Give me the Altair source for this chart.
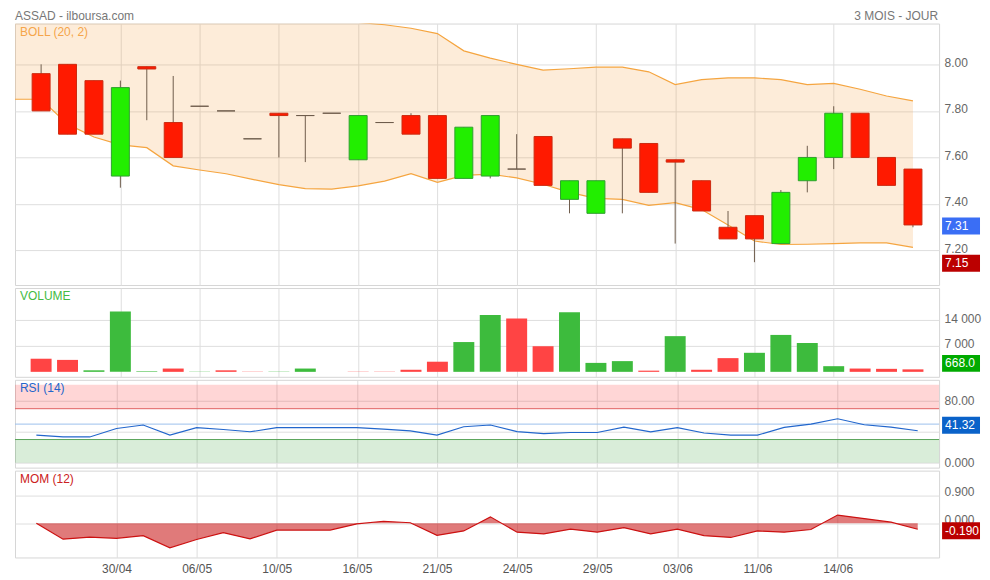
import altair as alt
import pandas as pd

# ---------------- data ----------------
dates = ["25/04", "26/04", "29/04", "30/04", "02/05", "03/05", "06/05", "07/05", "08/05", "10/05",
         "13/05", "14/05", "16/05", "17/05", "20/05", "21/05", "22/05", "23/05", "24/05", "27/05",
         "28/05", "29/05", "30/05", "31/05", "03/06", "04/06", "10/06", "11/06", "12/06", "13/06",
         "14/06", "18/06", "19/06", "20/06"]
opens = [7.96, 8.00, 7.93, 7.52, 7.99, 7.75, 7.82, 7.80, 7.68, 7.79, 7.78, 7.79, 7.59, 7.75, 7.78,
         7.78, 7.51, 7.52, 7.55, 7.69, 7.42, 7.36, 7.68, 7.66, 7.59, 7.50, 7.30, 7.35, 7.23, 7.50,
         7.60, 7.79, 7.60, 7.55]
closes = [7.80, 7.70, 7.70, 7.90, 7.98, 7.60, 7.82, 7.80, 7.68, 7.78, 7.78, 7.79, 7.78, 7.75, 7.70,
          7.51, 7.73, 7.78, 7.55, 7.48, 7.50, 7.50, 7.64, 7.45, 7.58, 7.37, 7.25, 7.25, 7.45, 7.60,
          7.79, 7.60, 7.48, 7.31]
highs = [8.00, 8.00, 7.93, 7.93, 7.99, 7.95, 7.82, 7.80, 7.68, 7.79, 7.78, 7.79, 7.78, 7.75, 7.79,
         7.78, 7.73, 7.78, 7.70, 7.69, 7.50, 7.50, 7.68, 7.66, 7.59, 7.50, 7.37, 7.35, 7.46, 7.65,
         7.82, 7.79, 7.60, 7.55]
lows = [7.80, 7.70, 7.70, 7.47, 7.76, 7.60, 7.82, 7.80, 7.68, 7.60, 7.58, 7.79, 7.59, 7.75, 7.70,
        7.51, 7.51, 7.51, 7.55, 7.48, 7.36, 7.36, 7.36, 7.45, 7.23, 7.37, 7.25, 7.15, 7.23, 7.45,
        7.55, 7.60, 7.48, 7.30]

# Bollinger (20, 2) - first value belongs to the session before the first candle
boll_upper = [8.30, 8.30, 8.31, 8.31, 8.30, 8.29, 8.28, 8.26, 8.25, 8.24, 8.23, 8.22, 8.20, 8.18,
              8.17, 8.155, 8.132, 8.058, 8.027, 8.000, 7.975, 7.981, 7.988, 7.988, 7.968, 7.913,
              7.934, 7.942, 7.942, 7.934, 7.913, 7.918, 7.893, 7.864, 7.843]
boll_lower = [7.85, 7.85, 7.743, 7.688, 7.654, 7.642, 7.564, 7.546, 7.53, 7.506, 7.483, 7.466,
              7.464, 7.478, 7.498, 7.53, 7.493, 7.523, 7.528, 7.512, 7.485, 7.45, 7.424, 7.42,
              7.394, 7.406, 7.376, 7.31, 7.241, 7.226, 7.227, 7.23, 7.233, 7.233, 7.214]

volumes = [3550, 3230, 410, 16340, 150, 890, 60, 410, 60, 60, 890, 0, 60, 60, 560, 2740, 8060,
           15380, 14410, 6930, 16100, 2420, 2900, 320, 9660, 560, 3710, 5150, 9990, 7810, 1530,
           890, 810, 668]
vol_dir = ["down", "down", "up", "up", "up", "down", "up", "down", "down", "up", "up", "up",
           "down", "down", "down", "down", "up", "up", "down", "down", "up", "up", "up", "down",
           "up", "down", "down", "up", "up", "up", "up", "down", "down", "down"]

rsi = [35.7, 33.4, 33.4, 44.3, 48.9, 35.7, 45.4, 43.1, 40.0, 45.4, 45.4, 45.4, 45.4, 43.5, 41.2,
       35.7, 46.6, 48.9, 40.3, 37.7, 39.2, 39.2, 46.1, 40.0, 45.4, 38.5, 35.7, 35.7, 45.8, 50.0,
       56.9, 49.2, 46.1, 41.32]
rsi_overbought = 70
rsi_mid = 50
rsi_oversold = 30
rsi_top = 101.0

mom = [0.0, -0.511, -0.445, -0.483, -0.398, -0.786, -0.52, -0.303, -0.502, -0.218, -0.218,
       -0.218, -0.02, 0.066, 0.019, -0.388, -0.246, 0.208, -0.284, -0.341, -0.19, -0.284,
       -0.142, -0.341, -0.19, -0.398, -0.455, -0.246, -0.284, -0.199, 0.265, 0.152, 0.038, -0.19]

title_left = "ASSAD - ilboursa.com"
title_right = "3 MOIS - JOUR"
price_ticks = [7.2, 7.4, 7.6, 7.8, 8.0]
vol_ticks = [7000, 14000]
rsi_ticks = [0, 40, 80]
rsi_tick_labels = ["0.000", "", "80.00"]
mom_ticks = [0, 0.9]
date_ticks = list(range(3, 31, 3))

last_close = closes[-1]
min_low = min(lows)
last_vol = volumes[-1]
last_rsi = rsi[-1]
last_mom = mom[-1]

# ---------------- frames ----------------
n = len(dates)
idx = list(range(n))
cdir = ["up" if c > o else ("down" if c < o else "flat") for o, c in zip(opens, closes)]
candles = pd.DataFrame({"i": idx, "open": opens, "close": closes, "high": highs,
                        "low": lows, "dir": cdir})
band = pd.DataFrame({"i": list(range(-1, n)), "upper": boll_upper, "lower": boll_lower})
vol_df = pd.DataFrame({"i": idx, "vol": volumes, "dir": vol_dir})
rsi_df = pd.DataFrame({"i": idx, "rsi": rsi})
mom_df = pd.DataFrame({"i": idx, "mom": mom})

FONT = "Liberation Sans"
GRID = "#dedede"
W = 926
XDOM = [-0.8, 33.8]
label_expr = "[" + ",".join("'%s'" % d for d in dates) + "][datum.value]"
rsi_label_expr = ("[" + ",".join("'%s'" % s for s in rsi_tick_labels) + "]"
                  "[indexof(" + str(rsi_ticks) + ", datum.value)]")
BX1, BX2 = 929, 967   # badge extent (px, right of plot)
TX = 932              # badge text start


def xenc(show=False):
    return alt.X("i:Q", scale=alt.Scale(domain=XDOM, nice=False, zero=False),
                 axis=alt.Axis(values=date_ticks, grid=True, gridColor=GRID, labels=show,
                               ticks=False, domain=False, title=None, labelExpr=label_expr,
                               labelPadding=6 if show else 0, labelFontSize=12,
                               labelColor="#555", labelFont=FONT))


def yaxis(vals, fmt=None, expr=None, offset=-2, flush=False):
    kw = dict(values=vals, orient="right", grid=True, gridColor=GRID, ticks=False,
              domain=False, title=None, labelPadding=5, labelFontSize=12,
              labelColor="#666", labelFont=FONT, labelOffset=offset, labelFlush=flush)
    if fmt:
        kw["format"] = fmt
    if expr:
        kw["labelExpr"] = expr
    return alt.Axis(**kw)


def badge(value, scale, color, text, yoff=0):
    d = pd.DataFrame({"v": [value], "t": [text]})
    base = alt.Chart(d)
    box = base.mark_bar(size=17, orient="horizontal", color=color, yOffset=yoff).encode(
        x=alt.value(BX1), x2=alt.value(BX2), y=alt.Y("v:Q", scale=scale))
    txt = base.mark_text(align="left", baseline="middle", color="white", font=FONT,
                         fontSize=12, dy=yoff).encode(
        x=alt.value(TX), y=alt.Y("v:Q", scale=scale), text="t:N")
    return box + txt


def panel_label(text, color):
    return alt.Chart(pd.DataFrame({"t": [text]})).mark_text(
        align="left", baseline="middle", font=FONT, fontSize=12, color=color).encode(
        x=alt.value(5), y=alt.value(8.5), text="t:N")


# ---------------- price panel ----------------
ps = alt.Scale(domain=[7.0734, 8.1538], nice=False, zero=False)
band_area = alt.Chart(band).mark_area(color="#f7a040", opacity=0.2, clip=True).encode(
    x=xenc(), y=alt.Y("lower:Q", scale=ps, axis=yaxis(price_ticks, fmt=".2f")),
    y2="upper:Q")
up_line = alt.Chart(band).mark_line(color="#f5a540", strokeWidth=1.2, clip=True).encode(
    x="i:Q", y=alt.Y("upper:Q", scale=ps))
lo_line = alt.Chart(band).mark_line(color="#f5a540", strokeWidth=1.2, clip=True).encode(
    x="i:Q", y=alt.Y("lower:Q", scale=ps))
wicks = alt.Chart(candles).mark_rule(color="#6e5c4c", strokeWidth=1).encode(
    x="i:Q", y=alt.Y("low:Q", scale=ps), y2="high:Q")
bodies = alt.Chart(candles).mark_bar(size=18, strokeWidth=1).encode(
    x="i:Q", y=alt.Y("open:Q", scale=ps), y2="close:Q",
    fill=alt.Fill("dir:N", scale=alt.Scale(domain=["up", "down", "flat"],
                                           range=["#22ee00", "#ff1a00", "#6e5c4c"]), legend=None),
    stroke=alt.Stroke("dir:N", scale=alt.Scale(domain=["up", "down", "flat"],
                                               range=["#2ea02e", "#cc2a10", "#6e5c4c"]), legend=None))
titles = (alt.Chart(pd.DataFrame({"t": [title_left]})).mark_text(
    align="left", baseline="middle", font=FONT, fontSize=12, color="#777").encode(
    x=alt.value(0), y=alt.value(-8), text="t:N")
    + alt.Chart(pd.DataFrame({"t": [title_right]})).mark_text(
    align="right", baseline="middle", font=FONT, fontSize=12, color="#777").encode(
    x=alt.value(W - 1), y=alt.value(-8), text="t:N"))

price = alt.layer(
    band_area, up_line, lo_line, wicks, bodies,
    panel_label("BOLL (20, 2)", "#f5a54a"),
    badge(last_close, ps, "#3a6ef5", "%.2f" % last_close, yoff=1),
    badge(min_low, ps, "#bb0000", "%.2f" % min_low, yoff=1),
    titles,
).properties(width=W, height=262)

# ---------------- volume panel ----------------
vs = alt.Scale(domain=[0, 21336], nice=False, zero=True)
vol_bars = alt.Chart(vol_df).mark_bar(size=21).encode(
    x=xenc(), y=alt.Y("vol:Q", scale=vs,
                      axis=yaxis(vol_ticks, expr="replace(format(datum.value, ','), ',', ' ')")),
    color=alt.Color("dir:N", scale=alt.Scale(domain=["up", "down"],
                                             range=["#3dbb3d", "#ff4444"]), legend=None))
volume = alt.layer(
    vol_bars, panel_label("VOLUME", "#44bb44"),
    badge(last_vol, vs, "#00aa00", "%.1f" % last_vol, yoff=-6),
).properties(width=W, height=89)

# ---------------- RSI panel ----------------
rs = alt.Scale(domain=[0, rsi_top], nice=False)
zone_hi = alt.Chart(pd.DataFrame({"a": [rsi_overbought], "b": [rsi_top]})).mark_rect(
    color="#ff0000", opacity=0.16).encode(y=alt.Y("a:Q", scale=rs), y2="b:Q")
zone_lo = alt.Chart(pd.DataFrame({"a": [0], "b": [rsi_oversold]})).mark_rect(
    color="#008800", opacity=0.15).encode(y=alt.Y("a:Q", scale=rs), y2="b:Q")


def level(v, color):
    return alt.Chart(pd.DataFrame({"lv": [v]})).mark_rule(color=color, strokeWidth=1).encode(
        y=alt.Y("lv:Q", scale=rs))


rsi_line = alt.Chart(rsi_df).mark_line(color="#2266cc", strokeWidth=1.1).encode(
    x=xenc(), y=alt.Y("rsi:Q", scale=rs,
                      axis=yaxis(rsi_ticks, expr=rsi_label_expr, offset=0, flush=True)))
rsi_panel = alt.layer(
    zone_hi, zone_lo, level(rsi_overbought, "#e06060"), level(rsi_mid, "#9cc0ec"),
    level(rsi_oversold, "#5aa55a"), rsi_line, panel_label("RSI (14)", "#2266cc"),
    badge(last_rsi, rs, "#0a62c9", "%.2f" % last_rsi, yoff=-5.5),
).properties(width=W, height=88)

# ---------------- MOM panel ----------------
ms = alt.Scale(domain=[-0.9375, 1.534], nice=False, zero=False)
mom_area = alt.Chart(mom_df).mark_area(color="#cc2222", opacity=0.6).encode(
    x=xenc(True), y=alt.Y("mom:Q", scale=ms, axis=yaxis(mom_ticks, fmt=".3f", offset=-4)),
    y2=alt.datum(0))
mom_line = alt.Chart(mom_df).mark_line(color="#cc1111", strokeWidth=1.2).encode(
    x="i:Q", y=alt.Y("mom:Q", scale=ms))
mom_panel = alt.layer(
    mom_area, mom_line, panel_label("MOM (12)", "#cc2222"),
    badge(last_mom, ms, "#bb0000", "%.3f" % last_mom, yoff=1.5),
).properties(width=W, height=87)

chart = alt.vconcat(price, volume, rsi_panel, mom_panel, spacing=3, bounds="flush").properties(
    padding={"left": 6, "top": 0, "right": 0, "bottom": 0}
).configure_view(stroke="#d6d6d6").configure_concat(spacing=3)

chart.save("out.html", embed_options={"renderer": "svg", "actions": False})
